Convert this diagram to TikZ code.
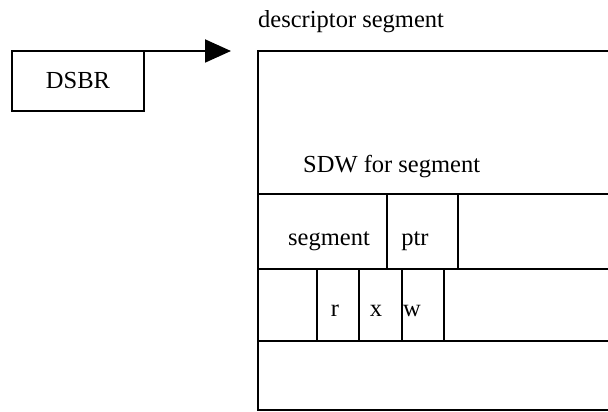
\documentclass[tikz,border=0pt]{standalone}
\usepackage{fontspec}
\setmainfont{Liberation Serif}
\usetikzlibrary{arrows.meta}
\tikzset{
  rule/.style={line width=1.9pt, line cap=rect},
  lbl/.style={inner sep=0pt, anchor=base, font=\fontsize{24.5}{28}\selectfont},
  regbox/.style={draw, line width=1.9pt, minimum width=132pt, minimum height=60pt,
    inner sep=0pt, outer sep=0pt, font=\fontsize{24.5}{28}\selectfont},
}
\begin{document}
\begin{tikzpicture}[x=1pt,y=-1pt]
\useasboundingbox (0,0) rectangle (608,412);

% register box and the pointer into the table
\node[regbox] (dsbr) at (78,81) {DSBR};
\coordinate (tip) at (231,51);
\draw[line width=1.9pt, -{Triangle[length=26pt,width=23pt]}]
  (dsbr.north east) -- (dsbr.north east -| tip);

% table outline: left side closed, right side runs off the page
\coordinate (tl) at (258,51);
\coordinate (bl) at (258,410);
\draw[rule] (608,51) -- (tl) -- (bl) -- (608,410);
\draw[rule] (258,194) -- (608,194);
\draw[rule] (258,269) -- (608,269);
\draw[rule] (258,341) -- (608,341);

% field dividers of the first word
\draw[rule] (387,194) -- (387,269);
\draw[rule] (458,194) -- (458,269);

% field dividers of the second word
\draw[rule] (317,269) -- (317,341);
\draw[rule] (359,269) -- (359,341);
\draw[rule] (402,269) -- (402,341);
\draw[rule] (444,269) -- (444,341);

% labels
\node[lbl, anchor=base west] (title) at (258,28) {descriptor segment};
\node[lbl, anchor=base west] (sdw) at (303,172) {SDW for segment};
\node[lbl] (seg) at (329,245) {segment};
\node[lbl] (ptr) at (415,245) {ptr};
\node[lbl] (r) at (335,316) {r};
\node[lbl] (xb) at (376,316) {x};
\node[lbl] (w) at (412,316) {w};
\end{tikzpicture}
\end{document}
